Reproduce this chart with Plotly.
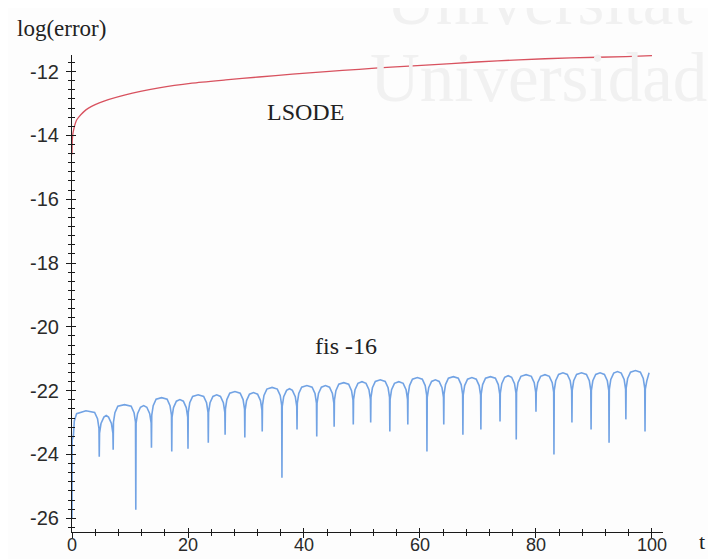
import plotly.graph_objects as go

# ---- data ----
LSODE_T = [0, 0.05, 0.2, 0.8, 1.2, 2.4, 4.7, 9.2, 15, 20.7, 26.5, 32.2, 38, 43.8,
           49.5, 55, 61, 69.7, 77, 86, 95.5, 100]
LSODE_Y = [-14.6, -14.14, -13.9, -13.52, -13.42, -13.2, -12.98, -12.73, -12.51,
           -12.36, -12.26, -12.17, -12.08, -12.0, -11.93, -11.86, -11.8, -11.7,
           -11.63, -11.57, -11.53, -11.5]

FIS_T = [
    0.0, 0.03, 0.25, 0.4, 0.8, 2.4, 3.9, 4.4, 4.65, 4.7,
    4.75, 5.0, 5.5, 5.9, 6.3, 6.8, 7.05, 7.1,
    7.15, 7.4, 7.9, 9.05, 10.2, 10.7, 10.95, 11.0,
    11.05, 11.3, 11.8, 12.35, 12.9, 13.4, 13.65, 13.7,
    13.75, 14.0, 14.5, 15.45, 16.4, 16.9, 17.15, 17.2,
    17.25, 17.5, 18.0, 18.6, 19.2, 19.7, 19.95, 20.0,
    20.05, 20.3, 20.8, 21.75, 22.7, 23.2, 23.45, 23.5,
    23.55, 23.8, 24.3, 24.95, 25.6, 26.1, 26.35, 26.4,
    26.45, 26.7, 27.2, 28.1, 29.0, 29.5, 29.75, 29.8,
    29.85, 30.1, 30.6, 31.3, 32.0, 32.5, 32.75, 32.8,
    32.85, 33.1, 33.6, 34.5, 35.4, 35.9, 36.15, 36.2,
    36.25, 36.5, 37.0, 37.5, 38.0, 38.5, 38.75, 38.8,
    38.85, 39.1, 39.6, 40.5, 41.4, 41.9, 42.15, 42.2,
    42.25, 42.5, 43.0, 43.7, 44.4, 44.9, 45.15, 45.2,
    45.25, 45.5, 46.0, 46.85, 47.7, 48.2, 48.45, 48.5,
    48.55, 48.8, 49.3, 50.0, 50.7, 51.2, 51.45, 51.5,
    51.55, 51.8, 52.3, 53.15, 54.0, 54.5, 54.75, 54.8,
    54.85, 55.1, 55.6, 56.35, 57.1, 57.6, 57.85, 57.9,
    57.95, 58.2, 58.7, 59.55, 60.4, 60.9, 61.15, 61.2,
    61.25, 61.5, 62.0, 62.65, 63.3, 63.8, 64.05, 64.1,
    64.15, 64.4, 64.9, 65.75, 66.6, 67.1, 67.35, 67.4,
    67.45, 67.7, 68.2, 68.95, 69.7, 70.2, 70.45, 70.5,
    70.55, 70.8, 71.3, 72.15, 73.0, 73.5, 73.75, 73.8,
    73.85, 74.1, 74.6, 75.2, 75.8, 76.3, 76.55, 76.6,
    76.65, 76.9, 77.4, 78.3, 79.2, 79.7, 79.95, 80.0,
    80.05, 80.3, 80.8, 81.55, 82.3, 82.8, 83.05, 83.1,
    83.15, 83.4, 83.9, 84.65, 85.4, 85.9, 86.15, 86.2,
    86.25, 86.5, 87.0, 87.85, 88.7, 89.2, 89.45, 89.5,
    89.55, 89.8, 90.3, 91.05, 91.8, 92.3, 92.55, 92.6,
    92.65, 92.9, 93.4, 94.05, 94.7, 95.2, 95.45, 95.5,
    95.55, 95.8, 96.3, 97.15, 98.0, 98.5, 98.75, 98.8,
    98.85, 99.1, 99.5,
]
FIS_Y = [
    -26.0, -23.55, -23.4, -22.95, -22.72, -22.63, -22.68, -22.88, -23.18, -24.07,
    -23.33, -23.03, -22.83, -22.78, -22.83, -23.03, -23.33, -23.85,
    -22.99, -22.69, -22.49, -22.44, -22.49, -22.69, -22.99, -25.73,
    -23.02, -22.72, -22.52, -22.47, -22.52, -22.72, -23.02, -23.79,
    -22.77, -22.47, -22.27, -22.22, -22.27, -22.47, -22.77, -23.91,
    -22.83, -22.53, -22.33, -22.28, -22.33, -22.53, -22.83, -23.82,
    -22.68, -22.38, -22.18, -22.13, -22.18, -22.38, -22.68, -23.63,
    -22.68, -22.38, -22.18, -22.13, -22.18, -22.38, -22.68, -23.38,
    -22.58, -22.28, -22.08, -22.03, -22.08, -22.28, -22.58, -23.47,
    -22.61, -22.31, -22.11, -22.06, -22.11, -22.31, -22.61, -23.28,
    -22.45, -22.15, -21.95, -21.90, -21.95, -22.15, -22.45, -24.73,
    -22.49, -22.19, -21.99, -21.94, -21.99, -22.19, -22.49, -23.22,
    -22.39, -22.09, -21.89, -21.84, -21.89, -22.09, -22.39, -23.44,
    -22.39, -22.09, -21.89, -21.84, -21.89, -22.09, -22.39, -23.13,
    -22.30, -22.00, -21.80, -21.75, -21.80, -22.00, -22.30, -23.06,
    -22.27, -21.97, -21.77, -21.72, -21.77, -21.97, -22.27, -23.00,
    -22.21, -21.91, -21.71, -21.66, -21.71, -21.91, -22.21, -23.28,
    -22.27, -21.97, -21.77, -21.72, -21.77, -21.97, -22.27, -23.06,
    -22.14, -21.84, -21.64, -21.59, -21.64, -21.84, -22.14, -23.91,
    -22.21, -21.91, -21.71, -21.66, -21.71, -21.91, -22.21, -23.06,
    -22.11, -21.81, -21.61, -21.56, -21.61, -21.81, -22.11, -23.38,
    -22.14, -21.84, -21.64, -21.59, -21.64, -21.84, -22.14, -23.22,
    -22.11, -21.81, -21.61, -21.56, -21.61, -21.81, -22.11, -22.97,
    -22.08, -21.78, -21.58, -21.53, -21.58, -21.78, -22.08, -23.53,
    -22.05, -21.75, -21.55, -21.50, -21.55, -21.75, -22.05, -22.66,
    -22.05, -21.75, -21.55, -21.50, -21.55, -21.75, -22.05, -24.00,
    -21.99, -21.69, -21.49, -21.44, -21.49, -21.69, -21.99, -23.00,
    -21.99, -21.69, -21.49, -21.44, -21.49, -21.69, -21.99, -23.22,
    -21.99, -21.69, -21.49, -21.44, -21.49, -21.69, -21.99, -23.63,
    -21.95, -21.65, -21.45, -21.40, -21.45, -21.65, -21.95, -22.90,
    -21.92, -21.62, -21.42, -21.37, -21.42, -21.62, -21.92, -23.28,
    -21.95, -21.70, -21.44,
]

X_TICKS = [0, 20, 40, 60, 80, 100]
Y_TICKS = [-26, -24, -22, -20, -18, -16, -14, -12]
Y_TICK_TEXT = ["-26", "-24", "-22", "-20", "-18", "-16", "-14", "-12"]

X_RANGE = [0, 101.9]
Y_RANGE = [-26.43, -11.48]

RED = "#d8525f"
BLUE = "#72a3e4"
AXC = "#1a1a1a"
XTICKFONT = dict(family="Liberation Sans, Arial, sans-serif", size=18, color="#2a2a2a")
YTICKFONT = dict(family="Liberation Sans, Arial, sans-serif", size=20, color="#2a2a2a")
SERIF = "Liberation Serif, Times New Roman, serif"

fig = go.Figure()
fig.add_trace(go.Scatter(x=LSODE_T, y=LSODE_Y, mode="lines",
                         line=dict(color=RED, width=1.3, shape="spline",
                                   smoothing=0.6),
                         showlegend=False, hoverinfo="skip"))
fig.add_trace(go.Scatter(x=FIS_T, y=FIS_Y, mode="lines",
                         line=dict(color=BLUE, width=1.6), showlegend=False,
                         hoverinfo="skip"))
# invisible copy on the overlay axes so their inner tick marks get drawn
fig.add_trace(go.Scatter(x=LSODE_T, y=LSODE_Y, mode="lines", xaxis="x2",
                         yaxis="y2", opacity=0, line=dict(width=0),
                         showlegend=False, hoverinfo="skip"))

fig.update_layout(
    width=716, height=559,
    # page body adds an 8px offset, so margins are shifted to compensate
    margin=dict(l=64, r=61, t=47, b=35, autoexpand=False),
    paper_bgcolor="#fdfdfd", plot_bgcolor="rgba(0,0,0,0)",
    showlegend=False,
    xaxis=dict(range=X_RANGE, tickvals=X_TICKS, showgrid=False, zeroline=False,
               automargin=False,
               showline=True, linecolor=AXC, linewidth=1.2,
               ticks="outside", ticklen=5, tickcolor=AXC, tickwidth=1.2,
               tickfont=XTICKFONT, ticklabelstandoff=-9,
               minor=dict(dtick=4, tick0=0, ticks="outside", ticklen=3,
                          tickcolor=AXC, tickwidth=1, showgrid=False)),
    yaxis=dict(range=Y_RANGE, tickvals=Y_TICKS, ticktext=Y_TICK_TEXT,
               showgrid=False, zeroline=False, automargin=False,
               showline=True, linecolor=AXC, linewidth=1.2,
               ticks="outside", ticklen=5, tickcolor=AXC, tickwidth=1.2,
               tickfont=YTICKFONT, ticklabelstandoff=3,
               minor=dict(dtick=2 / 7, tick0=-12, ticks="outside", ticklen=3,
                          tickcolor=AXC, tickwidth=1, showgrid=False)),
    xaxis2=dict(range=X_RANGE, overlaying="x", anchor="y2", side="bottom",
                tickvals=X_TICKS, showticklabels=False, showgrid=False,
                zeroline=False, showline=False, automargin=False,
                ticks="inside", ticklen=4, tickcolor=AXC, tickwidth=1.2,
                minor=dict(dtick=4, tick0=0, ticks="inside", ticklen=3,
                           tickcolor=AXC, tickwidth=1, showgrid=False)),
    yaxis2=dict(range=Y_RANGE, overlaying="y", anchor="x2", side="left",
                tickvals=Y_TICKS, showticklabels=False, showgrid=False,
                zeroline=False, showline=False, automargin=False,
                ticks="inside", ticklen=4, tickcolor=AXC, tickwidth=1.2,
                minor=dict(dtick=2 / 7, tick0=-12, ticks="inside", ticklen=3,
                           tickcolor=AXC, tickwidth=1, showgrid=False)),
)

# faint scanned watermark (partly cut at the top, as in the scan)
fig.add_annotation(text="Universitat", xref="paper", yref="paper",
                   x=1.054, y=1.113, xanchor="right", yanchor="middle",
                   showarrow=False,
                   font=dict(family=SERIF, size=69, color="#f1f1f1"))
fig.add_annotation(text="Universidad", xref="paper", yref="paper",
                   x=1.078, y=0.952, xanchor="right", yanchor="middle",
                   showarrow=False,
                   font=dict(family=SERIF, size=69, color="#f1f1f1"))

fig.add_annotation(text="log(error)", xref="paper", yref="paper",
                   x=-0.096, y=1.055, xanchor="left", yanchor="middle",
                   showarrow=False, font=dict(family=SERIF, size=23, color="#222"))
fig.add_annotation(text="LSODE", x=40.2, y=-13.26, showarrow=False,
                   font=dict(family=SERIF, size=24, color="#222"))
fig.add_annotation(text="fis -16", x=47.2, y=-20.6, showarrow=False,
                   font=dict(family=SERIF, size=24, color="#222"))
fig.add_annotation(text="t", xref="paper", yref="paper",
                   x=1.066, y=-0.02, xanchor="center", yanchor="middle",
                   showarrow=False, font=dict(family=SERIF, size=22, color="#222"))

fig.write_html("out.html")
